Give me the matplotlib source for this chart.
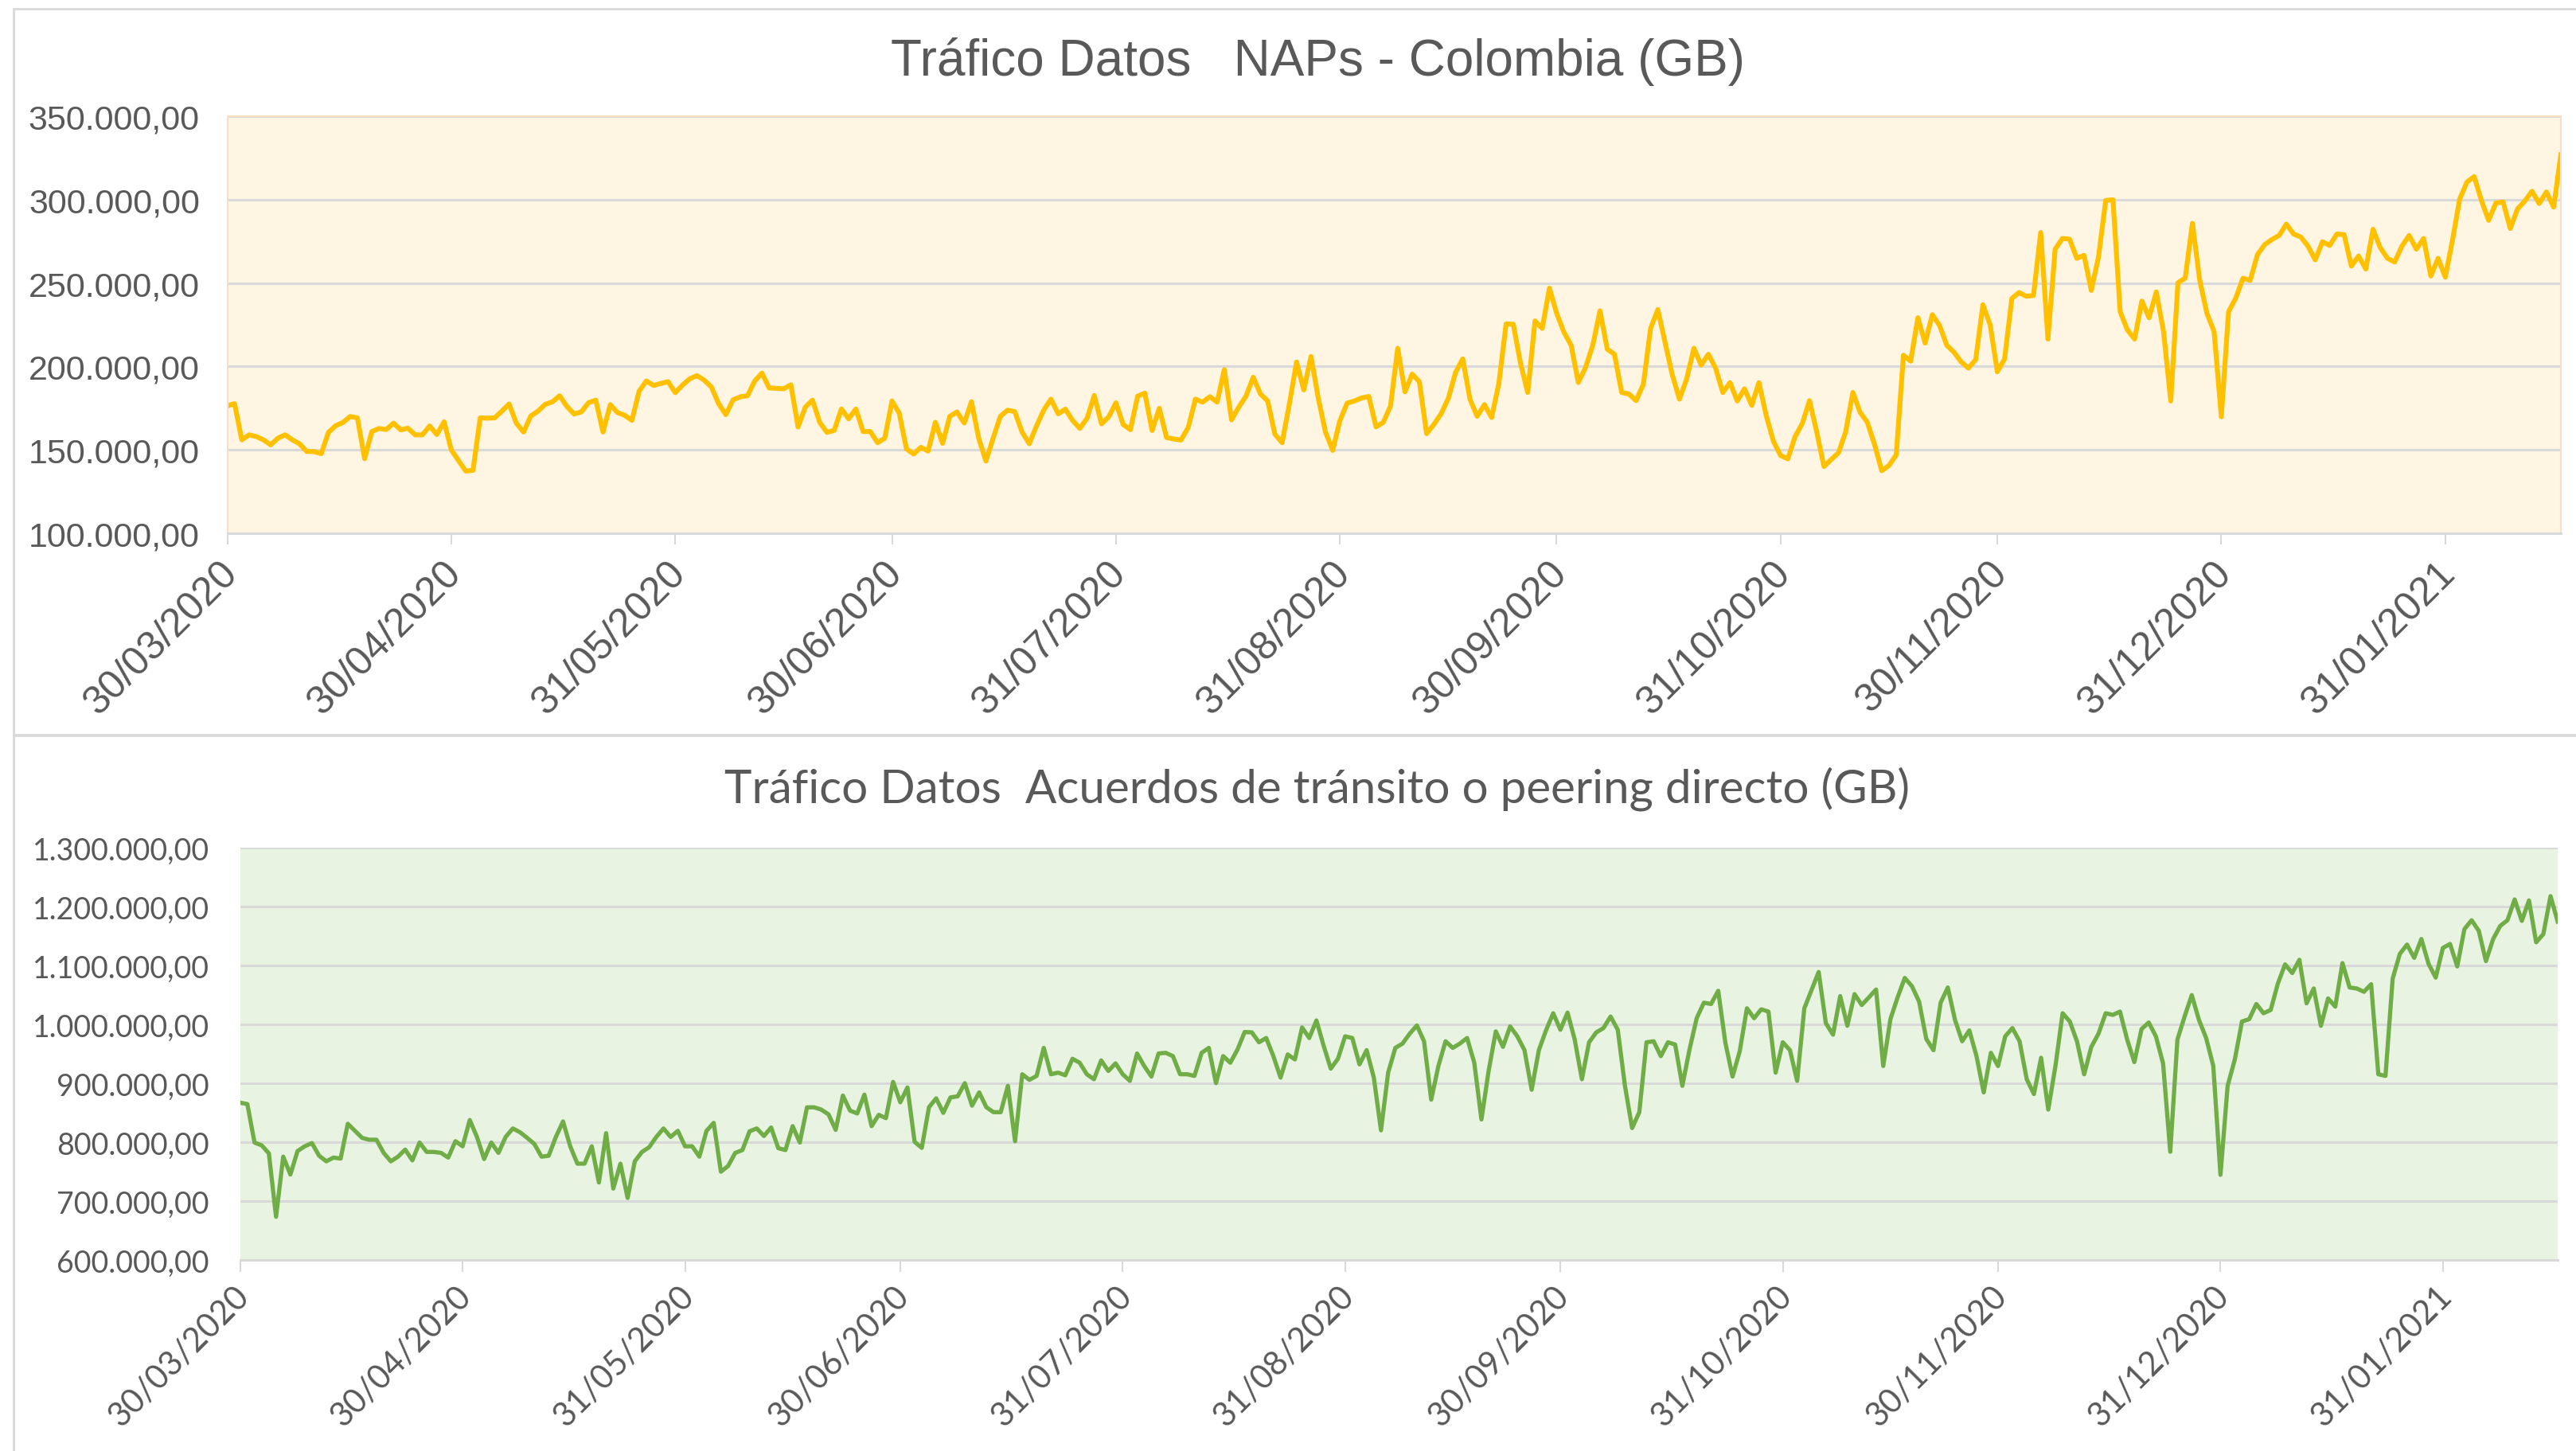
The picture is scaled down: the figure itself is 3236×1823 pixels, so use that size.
import matplotlib
matplotlib.use("Agg")
import matplotlib.pyplot as plt
import matplotlib.ticker as ticker
from matplotlib.transforms import ScaledTranslation
from matplotlib.patches import Rectangle
import numpy as np
import pandas as pd

# daily values (thousands of GB)
naps_k = [
    176.4, 177.7, 156.0, 159.0, 158.0, 156.0, 153.0, 157.0, 159.0, 156.0,
    153.6, 149.0, 149.0, 147.7, 160.5, 164.5, 166.4, 170.0, 169.2, 144.7,
    161.0, 162.8, 162.2, 166.0, 162.0, 163.0, 159.0, 159.0, 164.3, 159.2,
    166.8, 150.0, 143.6, 137.3, 137.7, 169.2, 169.0, 169.2, 173.2, 177.5,
    166.0, 160.7, 170.3, 173.2, 177.3, 178.8, 182.4, 176.0, 171.5, 172.8,
    178.3, 179.8, 160.7, 177.1, 172.4, 170.7, 167.7, 185.2, 191.3, 188.6,
    189.8, 190.9, 184.3, 188.8, 192.6, 194.5, 191.8, 187.7, 177.7, 171.1,
    180.0, 181.8, 182.4, 191.3, 196.0, 187.1, 186.9, 186.6, 189.0, 163.7,
    175.6, 179.8, 166.4, 160.5, 161.7, 174.5, 168.6, 174.5, 161.0, 161.0,
    154.3, 157.0, 179.3, 172.0, 150.6, 147.5, 151.5, 149.3, 166.5, 153.9,
    170.1, 172.7, 166.1, 178.9, 157.0, 143.3, 157.0, 170.1, 173.8, 172.9,
    160.7, 153.7, 164.3, 173.8, 180.4, 171.6, 174.4, 167.6, 162.9, 168.9,
    182.6, 165.6, 169.8, 178.2, 165.2, 162.1, 182.2, 184.0, 161.6, 174.9,
    157.4, 156.5, 155.9, 163.4, 180.4, 178.6, 181.9, 178.6, 198.1, 168.0,
    175.6, 182.2, 193.5, 183.5, 179.3, 159.4, 154.3, 177.5, 202.7, 185.9,
    206.0, 181.1, 160.7, 149.7, 167.6, 178.0, 179.3, 181.1, 182.0, 163.8,
    166.5, 176.2, 210.9, 184.8, 195.4, 190.8, 159.7, 165.2, 171.6, 180.8,
    196.3, 204.5, 180.4, 170.1, 177.1, 169.4, 189.9, 225.5, 225.3, 201.8,
    184.4, 227.3, 222.8, 246.9, 231.9, 220.6, 212.7, 190.4, 199.4, 212.7,
    233.4, 210.4, 207.3, 184.4, 183.5, 179.5, 189.3, 222.8, 234.1, 214.6,
    195.0,
    180.4, 192.6, 210.9, 200.8, 207.3, 199.0, 184.4, 190.3, 179.3, 186.6,
    176.7, 190.3, 170.7, 155.2, 146.6, 144.6, 157.9, 165.8, 179.5, 160.7,
    140.0, 144.2, 148.2, 160.7, 184.4, 172.5, 166.5, 153.3, 137.5, 140.6,
    147.0, 206.7, 203.2, 229.2, 214.0, 231.0, 224.6, 212.7, 208.5, 202.7,
    199.0, 204.1, 237.0, 225.0, 196.8, 204.5, 240.7, 244.3, 242.1, 242.5,
    280.3, 216.4, 270.3, 276.7, 276.3, 264.8, 266.6, 245.6, 265.7, 299.5,
    299.9, 232.8, 221.9, 216.4, 239.2, 229.2, 244.7, 220.9, 179.3, 250.2,
    252.9, 285.8, 252.0, 231.9, 220.9, 169.8, 232.8, 241.0, 252.9, 251.6,
    267.0, 273.0, 276.1, 278.5, 285.3, 279.4, 277.6, 272.1, 263.9, 274.8,
    272.5, 279.4, 279.0, 260.2, 266.2, 258.4, 282.2, 271.2, 264.8, 262.6,
    272.1, 278.5, 270.3, 276.7, 254.2, 264.8, 253.5, 275.8, 300.4, 310.5,
    313.8, 299.5, 287.6, 298.0, 298.6, 282.7, 294.4, 299.1, 305.0, 297.7,
    304.6, 295.5, 326.9,
]

acuerdos_k = [
    867.0, 864.7, 799.4, 794.6, 781.0, 673.4, 775.4, 745.1, 785.0, 793.0,
    798.5, 777.0, 767.5, 773.8, 772.2, 831.2, 819.3, 807.3, 804.1, 804.1,
    781.8, 767.5, 775.4, 787.4, 769.1, 799.4, 783.4, 783.4, 781.8, 773.8,
    801.7, 793.0, 837.6, 808.9, 771.4, 799.4, 781.8, 808.9, 823.3, 816.9,
    807.3, 797.0, 775.4, 777.0, 808.9, 835.2, 793.0, 763.5, 763.5, 793.0,
    731.6, 815.3, 721.2, 763.5, 705.3, 767.5, 783.4, 791.4, 808.9, 823.3,
    808.9, 819.3, 793.0, 793.0, 775.4, 819.3, 832.8, 749.9, 759.5, 781.8,
    786.6, 818.5, 823.3, 810.5, 824.9, 789.8, 786.6, 827.2, 799.4, 859.2,
    859.2, 855.2, 847.2, 820.9, 879.1, 853.6, 848.8, 880.7, 827.2,
    846.4, 840.8, 902.4, 867.7, 892.9, 800.5, 790.4, 859.3, 874.4, 849.8, 876.0,
    877.8, 900.2, 862.0, 884.5, 859.3, 850.9, 850.9, 895.7, 801.6, 915.3,
    905.8, 912.5, 960.1, 915.3, 918.1, 913.6, 941.6, 934.9, 915.3, 906.9,
    938.8, 920.9, 933.8, 915.3, 904.1, 950.6, 929.3, 911.4, 950.6, 951.7,
    946.1, 915.3, 915.3, 912.5, 951.7, 960.1, 900.2, 946.1, 934.9, 957.3,
    987.0, 986.4, 969.6, 976.9, 946.1, 909.7, 948.9, 940.5, 994.8, 976.9,
    1006.6, 964.0, 924.8, 941.6, 979.7, 976.9, 932.1, 956.2, 909.7, 820.1,
    918.1, 960.1, 967.4, 984.2, 998.2, 971.3, 872.2, 929.3, 971.3, 960.1,
    967.4, 976.9, 934.9, 838.6, 920.9, 988.1, 961.8, 996.5, 979.7, 956.2,
    889.0, 956.2, 989.8, 1018.9, 990.9, 1020.0, 974.1, 906.9, 969.6, 986.4,
    993.7, 1013.3, 990.9, 895.7, 824.0, 850.9, 969.6, 971.3, 946.1, 969.6,
    965.7,
    895.7, 957.3, 1010.5, 1036.8, 1034.6, 1057.0, 968.5, 911.4, 954.5, 1027.3,
    1010.5, 1025.6, 1021.7, 918.1, 969.6, 956.2, 904.1, 1027.3, 1058.1, 1088.9,
    1002.1, 982.5, 1048.0, 997.6, 1051.4, 1032.9, 1045.8, 1059.2, 929.3, 1008.8,
    1045.8, 1078.8, 1064.8, 1038.5, 975.2, 956.2, 1036.8, 1062.6, 1007.7, 971.3,
    989.8, 946.1, 884.5, 951.7, 929.3, 979.7, 993.7, 971.3, 906.9, 881.7,
    943.3, 855.4, 929.3, 1018.9, 1004.9, 971.3, 915.3, 961.8, 984.2, 1018.9,
    1016.1, 1021.7, 974.1, 936.0, 992.0, 1003.2, 979.7, 933.8, 783.7, 974.1,
    1013.3, 1049.7, 1007.7, 976.9, 929.3, 744.5, 895.7, 940.5, 1004.9, 1008.8,
    1034.6, 1018.9, 1024.5, 1069.3, 1101.8, 1087.2, 1109.6, 1035.7, 1060.9, 997.6,
    1044.1, 1030.1, 1104.0, 1062.6, 1060.9, 1055.3, 1068.2, 915.3, 912.5, 1077.7,
    1119.7, 1135.4, 1113.0, 1144.9, 1102.9, 1079.4, 1129.8, 1136.5, 1098.4, 1161.7,
    1176.8, 1158.9, 1107.4, 1144.9, 1167.3, 1176.8, 1212.1, 1175.7, 1210.4, 1139.3,
    1153.3, 1217.7, 1174.6,
]

tick_dates = ["30/03/2020", "30/04/2020", "31/05/2020", "30/06/2020", "31/07/2020",
              "31/08/2020", "30/09/2020", "31/10/2020", "30/11/2020", "31/12/2020",
              "31/01/2021"]

title_top = "Tráfico Datos   NAPs - Colombia (GB)"
title_bot = "Tráfico Datos  Acuerdos de tránsito o peering directo (GB)"

naps = np.array(naps_k) * 1000
acuerdos = np.array(acuerdos_k) * 1000
fechas = pd.date_range("2020-03-30", periods=len(naps), freq="D")
ticks = pd.to_datetime(tick_dates, format="%d/%m/%Y")

W, H = 3237, 1824
DPI = 100
fig = plt.figure(figsize=(W / DPI, H / DPI), dpi=DPI)

txt = "#595959"
grid_c = "#D9D9D9"


def fmt_es(v, pos):
    s = "{:,.2f}".format(v)
    return s.replace(",", "X").replace(".", ",").replace("X", ".")


# chart area frames
fig.add_artist(Rectangle((17 / W, 1 - 924 / H), 1.0, (924 - 12) / H, transform=fig.transFigure,
                         facecolor="none", edgecolor=grid_c, lw=2))
fig.add_artist(Rectangle((17 / W, -0.01), 1.0, 1 - 925 / H + 0.01, transform=fig.transFigure,
                         facecolor="none", edgecolor=grid_c, lw=2))


def px_axes(l, t, r, b):
    return fig.add_axes([l / W, 1 - b / H, (r - l) / W, (b - t) / H])


# ---- top chart ----
ax1 = px_axes(285.6, 147, 3217, 671)
ax1.set_facecolor("#FEF5E2")
ax1.plot(fechas, naps, color="#FFC000", lw=4.4, solid_joinstyle="round")
ax1.set_ylim(100000, 350000)
ax1.set_xlim(fechas[0], fechas[-1])
ax1.yaxis.set_major_locator(ticker.MultipleLocator(50000))
ax1.yaxis.set_major_formatter(ticker.FuncFormatter(fmt_es))
ax1.grid(axis="y", color=grid_c, lw=2.2)
ax1.set_axisbelow(True)
for s in ["top", "left", "right"]:
    ax1.spines[s].set_color("#F6E1C8")
    ax1.spines[s].set_linewidth(1.5)
ax1.spines["bottom"].set_color(grid_c)
ax1.spines["bottom"].set_linewidth(2.2)
ax1.set_xticks(ticks)
ax1.set_xticklabels(tick_dates, rotation=45, ha="right", va="top", rotation_mode="anchor")
ax1.tick_params(axis="x", length=10, width=1.5, color=grid_c, pad=9,
                labelsize=36, labelcolor=txt)
ax1.tick_params(axis="y", length=0, pad=25, labelsize=31, labelcolor=txt)
for lbl in ax1.get_xticklabels() + ax1.get_yticklabels():
    lbl.set_fontfamily("Liberation Sans")
for lbl in ax1.get_xticklabels():
    lbl.set_transform(lbl.get_transform() + ScaledTranslation(-0.11, 0, fig.dpi_scale_trans))

fig.text(1656 / W, 1 - 95 / H, title_top, ha="center", va="baseline",
         fontsize=46, color=txt, family="Liberation Sans")

# ---- bottom chart ----
ax2 = px_axes(301.7, 1066, 3213, 1584)
ax2.set_facecolor("#E8F3E2")
ax2.plot(fechas, acuerdos, color="#70AD47", lw=3.8, solid_joinstyle="round")
ax2.set_ylim(600000, 1300000)
ax2.set_xlim(fechas[0], fechas[-1])
ax2.yaxis.set_major_locator(ticker.MultipleLocator(100000))
ax2.yaxis.set_major_formatter(ticker.FuncFormatter(fmt_es))
ax2.grid(axis="y", color=grid_c, lw=2.2)
ax2.set_axisbelow(True)
for s in ["top", "left", "right"]:
    ax2.spines[s].set_visible(False)
ax2.spines["bottom"].set_color(grid_c)
ax2.spines["bottom"].set_linewidth(2.2)
ax2.set_xticks(ticks)
ax2.set_xticklabels(tick_dates, rotation=45, ha="right", va="top", rotation_mode="anchor")
ax2.tick_params(axis="x", length=11, width=1.5, color=grid_c, pad=7,
                labelsize=30, labelcolor=txt)
ax2.tick_params(axis="y", length=0, pad=28, labelsize=27, labelcolor=txt)
for lbl in ax2.get_xticklabels() + ax2.get_yticklabels():
    lbl.set_fontfamily("Lato")
for lbl in ax2.get_xticklabels():
    lbl.set_transform(lbl.get_transform() + ScaledTranslation(-0.09, 0, fig.dpi_scale_trans))

fig.text(1655 / W, 1 - 1009 / H, title_bot, ha="center", va="baseline",
         fontsize=42, color=txt, family="Lato")

fig.savefig("out.png", dpi=DPI)
